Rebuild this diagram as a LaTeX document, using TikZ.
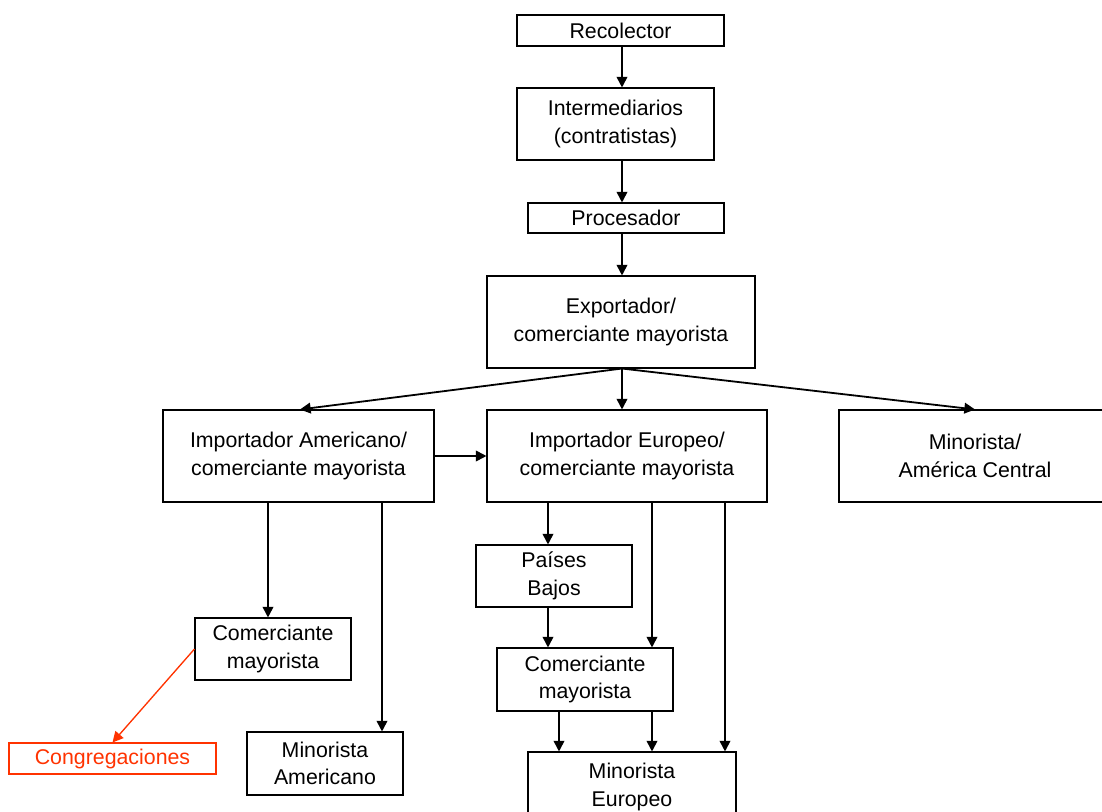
\documentclass[tikz,border=0pt]{standalone}
\usepackage{fontspec}
\setmainfont{Liberation Sans}
\usetikzlibrary{arrows.meta}
\definecolor{orred}{RGB}{255,51,0}
\begin{document}
\begin{tikzpicture}[x=0.75pt,y=-0.75pt,
  box/.style={draw,line width=0.8pt,inner sep=0pt,align=center,font=\fontsize{16}{20.5}\selectfont},
  sz/.style 2 args={minimum width=#1pt,minimum height=#2pt},
  arr/.style={line width=1.35pt,-{Triangle[length=8pt,width=8pt]}},
  redarr/.style={line width=1pt,draw=orred,-{Triangle[length=8pt,width=8pt]}}]
\useasboundingbox (0,0) rectangle (1102,812);
\clip (0,0) rectangle (1102,812);
\fill[white] (0,0) rectangle (1102,812);
% columns
\coordinate (c268) at (268,0);
\coordinate (c300) at (300,0);
\coordinate (c382) at (382,0);
\coordinate (c548) at (548,0);
\coordinate (c559) at (559,0);
\coordinate (c622) at (622,0);
\coordinate (c652) at (652,0);
\coordinate (c725) at (725,0);
\coordinate (c975) at (975,0);
% nodes
\node[box, sz={155.25}{23.25}] (rec) at (620.5,30.5) {Recolector};
\node[box, sz={147.75}{54}] (int) at (615.5,124) {Intermediarios\\(contratistas)};
\node[box, sz={147}{22.5}] (proc) at (626,218) {Procesador};
\node[box, sz={201}{69}] (exp) at (621,322) {Exportador/\\comerciante mayorista};
\node[box, sz={203.25}{69}] (imA) at (298.5,456) {Importador Americano/\\comerciante mayorista};
\node[box, sz={210}{69}] (imE) at (627,456) {Importador Europeo/\\comerciante mayorista};
\node[box, sz={204}{69}] (mAC) at (975,456) {Minorista/\\América Central};
\node[box, sz={117}{46.5}] (pb) at (554,576) {Países\\Bajos};
\node[box, sz={132}{47.25}] (cEu) at (585,679.5) {Comerciante\\mayorista};
\node[box, sz={156}{52.5}] (mEu) at (632,787) {Minorista\\Europeo};
\node[box, sz={117}{46.5}] (cAm) at (273,649) {Comerciante\\mayorista};
\node[box, sz={117}{47.25}] (mAm) at (325,763.5) {Minorista\\Americano};
\node[box, draw=orred, text=orred, sz={155.25}{23.25}] (cong) at (112.5,758.5) {Congregaciones};
% connectors
\draw[arr] (rec.south -| c622) -- (int.north -| c622);
\draw[arr] (int.south -| c622) -- (proc.north -| c622);
\draw[arr] (proc.south -| c622) -- (exp.north -| c622);
\draw[arr] (exp.south -| c622) -- (imA.north -| c300);
\draw[arr] (exp.south -| c622) -- (imE.north -| c622);
\draw[arr] (exp.south -| c622) -- (mAC.north -| c975);
\draw[arr] (imA.east) -- (imE.west);
\draw[arr] (imA.south -| c268) -- (cAm.north -| c268);
\draw[arr] (imA.south -| c382) -- (mAm.north -| c382);
\draw[arr] (imE.south -| c548) -- (pb.north -| c548);
\draw[arr] (imE.south -| c652) -- (cEu.north -| c652);
\draw[arr] (imE.south -| c725) -- (mEu.north -| c725);
\draw[arr] (pb.south -| c548) -- (cEu.north -| c548);
\draw[arr] (cEu.south -| c559) -- (mEu.north -| c559);
\draw[arr] (cEu.south -| c652) -- (mEu.north -| c652);
\draw[redarr] (cAm.west) -- (cong.north);
\end{tikzpicture}
\end{document}
